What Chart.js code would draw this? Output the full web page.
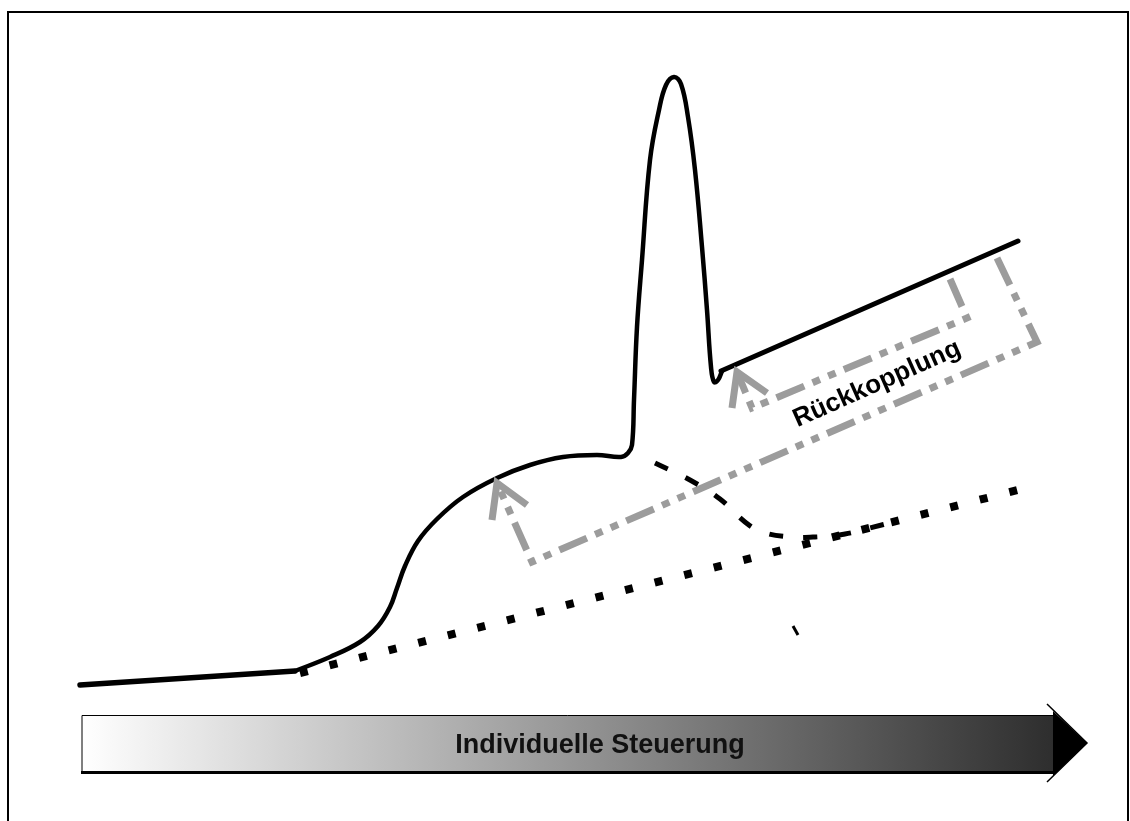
<!DOCTYPE html>
<html>
<head>
<meta charset="utf-8">
<script src="https://cdn.jsdelivr.net/npm/chart.js@4.4.1/dist/chart.umd.min.js"></script>
<style>
  html, body { margin: 0; padding: 0; background: #fff; }
  #wrap { width: 1130px; height: 821px; }
</style>
</head>
<body>
<div id="wrap"><canvas id="chart" width="1130" height="821"></canvas></div>
<script>
// Hauptkurve: Anfangsstück, Buckel mit Spitze, Endstück
const startX = [80, 295];
const startY = [685, 671];
const curveX = [295, 330, 360, 378, 390, 397, 405, 418, 437, 463, 497, 530, 563, 597, 621, 628, 632, 634, 637, 642, 650, 659, 666, 674, 681, 688, 695, 702, 707, 711, 714, 718, 722];
const curveY = [671, 657, 642, 626, 607, 588, 566, 541, 519, 497, 478, 465, 457, 455, 457, 453, 445, 400, 327, 260, 160, 110, 85, 77, 84, 117, 170, 247, 310, 367, 382, 380, 371];
const endX = [721, 1018];
const endY = [371, 241];

// gepunktete Linie
const dotX = [300, 1018];
const dotY = [673, 490];

// gestrichelte Kurve
const dashX = [655, 690, 720, 745, 762, 790, 815, 845, 870, 897];
const dashY = [463, 480, 499, 522, 532, 537, 537, 534, 528, 521];

// kleiner Strich
const tickX = [793, 798];
const tickY = [626, 635];

// Rückkopplung (grau, strich-punkt)
const fb1X = [997, 1037, 532, 497];
const fb1Y = [258, 342, 562, 483];
const head1X = [492, 497, 527];
const head1Y = [520, 483, 505];

const fb2X = [950, 967, 752, 737];
const fb2Y = [279, 318, 408, 372];
const head2X = [732, 737, 767];
const head2Y = [408, 372, 393];

const labelFeedback = "Rückkopplung";
const labelAxis = "Individuelle Steuerung";

const pts = (xs, ys) => xs.map((x, i) => ({ x: x, y: ys[i] }));
const grey = "#9c9c9c";

// Rahmen, Pfeil unten, Texte
const decor = {
  id: "decor",
  beforeDraw(chart) {
    const c = chart.ctx;
    c.save();
    c.fillStyle = "#fff";
    c.fillRect(0, 0, chart.width, chart.height);

    // Rahmen
    c.strokeStyle = "#000";
    c.lineWidth = 2;
    c.beginPath();
    c.moveTo(8, 830);
    c.lineTo(8, 12);
    c.lineTo(1128, 12);
    c.lineTo(1128, 830);
    c.stroke();

    // Verlaufsbalken
    const g = c.createLinearGradient(82, 0, 1053, 0);
    g.addColorStop(0, "#ffffff");
    g.addColorStop(1, "#2e2e2e");
    c.fillStyle = g;
    c.fillRect(82, 715, 971, 57);
    c.strokeStyle = "#000";
    c.lineWidth = 1;
    c.beginPath();
    c.moveTo(82, 772);
    c.lineTo(82, 715.5);
    c.lineTo(1053, 715.5);
    c.stroke();
    c.lineWidth = 3;
    c.beginPath();
    c.moveTo(81, 772.5);
    c.lineTo(1053, 772.5);
    c.stroke();

    // Pfeilspitze
    c.fillStyle = "#000";
    c.beginPath();
    c.moveTo(1053, 711);
    c.lineTo(1087, 743);
    c.lineTo(1053, 776);
    c.closePath();
    c.fill();
    c.lineWidth = 1.5;
    c.beginPath();
    c.moveTo(1047, 704);
    c.lineTo(1087, 743);
    c.lineTo(1047, 782);
    c.stroke();

    // Text im Balken
    c.fillStyle = "#111";
    c.font = "bold 27px 'Liberation Sans', Arial, sans-serif";
    c.textAlign = "center";
    c.textBaseline = "middle";
    c.fillText(labelAxis, 600, 746);
    c.restore();
  },
  afterDatasetsDraw(chart) {
    const c = chart.ctx;
    c.save();
    c.fillStyle = "#000";
    c.font = "bold 26px 'Liberation Sans', Arial, sans-serif";
    c.textAlign = "center";
    c.textBaseline = "middle";
    c.translate(877, 384);
    c.rotate(-24 * Math.PI / 180);
    c.fillText(labelFeedback, 0, 0);
    c.restore();
  }
};

const ctx = document.getElementById("chart");

const solid = (xs, ys, tension, w) => ({
  data: pts(xs, ys),
  showLine: true,
  borderColor: "#000",
  borderWidth: w,
  tension: tension,
  borderCapStyle: "round",
  borderJoinStyle: "round"
});

new Chart(ctx, {
  type: "scatter",
  data: {
    datasets: [
      {
        data: pts(dotX, dotY),
        showLine: true,
        borderColor: "#000",
        borderWidth: 8,
        borderDash: [8, 22.5],
        borderCapStyle: "butt"
      },
      {
        data: pts(dashX, dashY),
        showLine: true,
        borderColor: "#000",
        borderWidth: 5,
        borderDash: [14, 20],
        tension: 0.4
      },
      {
        data: pts(tickX, tickY),
        showLine: true,
        borderColor: "#000",
        borderWidth: 3
      },
      {
        data: pts(fb1X, fb1Y),
        showLine: true,
        borderColor: grey,
        borderWidth: 7,
        borderDash: [30, 9, 8, 9, 8, 9],
        borderJoinStyle: "miter"
      },
      {
        data: pts(head1X, head1Y),
        showLine: true,
        borderColor: grey,
        borderWidth: 7,
        borderJoinStyle: "miter"
      },
      {
        data: pts(fb2X, fb2Y),
        showLine: true,
        borderColor: grey,
        borderWidth: 7,
        borderDash: [30, 9, 8, 9, 8, 9],
        borderJoinStyle: "miter"
      },
      {
        data: pts(head2X, head2Y),
        showLine: true,
        borderColor: grey,
        borderWidth: 7,
        borderJoinStyle: "miter"
      },
      solid(startX, startY, 0, 5.5),
      solid(curveX, curveY, 0.4, 4.5),
      solid(endX, endY, 0, 5)
    ]
  },
  options: {
    responsive: false,
    animation: false,
    devicePixelRatio: 1,
    layout: { padding: 0 },
    elements: { point: { radius: 0, hoverRadius: 0 } },
    plugins: {
      legend: { display: false },
      tooltip: { enabled: false }
    },
    scales: {
      x: { type: "linear", min: 0, max: 1130, display: false },
      y: { type: "linear", min: 0, max: 821, reverse: true, display: false }
    }
  },
  plugins: [decor]
});
</script>
</body>
</html>
